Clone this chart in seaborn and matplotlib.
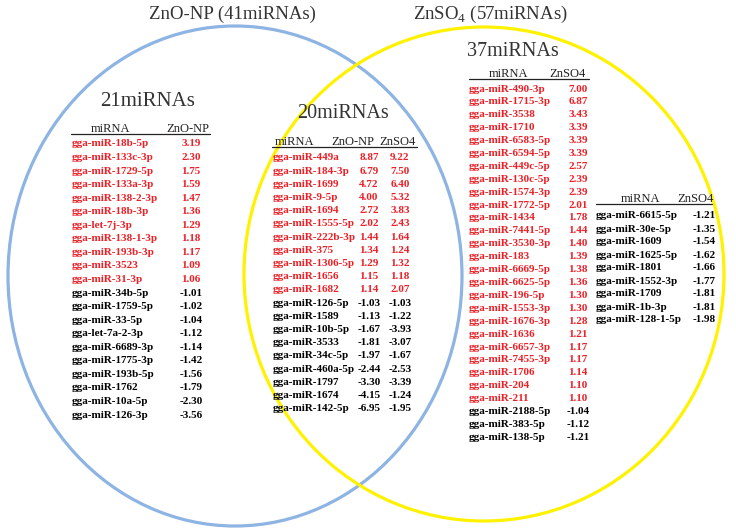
import matplotlib
matplotlib.use("Agg")
import matplotlib.pyplot as plt
from matplotlib.patches import Ellipse
import seaborn as sns

# --- data -------------------------------------------------------------
znonp_only_names = ["gga-miR-18b-5p", "gga-miR-133c-3p", "gga-miR-1729-5p", "gga-miR-133a-3p",
                    "gga-miR-138-2-3p", "gga-miR-18b-3p", "gga-let-7j-3p", "gga-miR-138-1-3p",
                    "gga-miR-193b-3p", "gga-miR-3523", "gga-miR-31-3p", "gga-miR-34b-5p",
                    "gga-miR-1759-5p", "gga-miR-33-5p", "gga-let-7a-2-3p", "gga-miR-6689-3p",
                    "gga-miR-1775-3p", "gga-miR-193b-5p", "gga-miR-1762", "gga-miR-10a-5p",
                    "gga-miR-126-3p"]
znonp_only_fc = [3.19, 2.30, 1.75, 1.59, 1.47, 1.36, 1.29, 1.18, 1.17, 1.09, 1.06,
                 -1.01, -1.02, -1.04, -1.12, -1.14, -1.42, -1.56, -1.79, -2.30, -3.56]

shared_names = ["gga-miR-449a", "gga-miR-184-3p", "gga-miR-1699", "gga-miR-9-5p", "gga-miR-1694",
                "gga-miR-1555-5p", "gga-miR-222b-3p", "gga-miR-375", "gga-miR-1306-5p",
                "gga-miR-1656", "gga-miR-1682", "gga-miR-126-5p", "gga-miR-1589", "gga-miR-10b-5p",
                "gga-miR-3533", "gga-miR-34c-5p", "gga-miR-460a-5p", "gga-miR-1797",
                "gga-miR-1674", "gga-miR-142-5p"]
shared_fc_znonp = [8.87, 6.79, 4.72, 4.00, 2.72, 2.02, 1.44, 1.34, 1.29, 1.15, 1.14,
                   -1.03, -1.13, -1.67, -1.81, -1.97, -2.44, -3.30, -4.15, -6.95]
shared_fc_znso4 = [9.22, 7.50, 6.40, 5.32, 3.83, 2.43, 1.64, 1.24, 1.32, 1.18, 2.07,
                   -1.03, -1.22, -3.93, -3.07, -1.67, -2.53, -3.39, -1.24, -1.95]

znso4_only_names_a = ["gga-miR-490-3p", "gga-miR-1715-3p", "gga-miR-3538", "gga-miR-1710",
                      "gga-miR-6583-5p", "gga-miR-6594-5p", "gga-miR-449c-5p", "gga-miR-130c-5p",
                      "gga-miR-1574-3p", "gga-miR-1772-5p", "gga-miR-1434", "gga-miR-7441-5p",
                      "gga-miR-3530-3p", "gga-miR-183", "gga-miR-6669-5p", "gga-miR-6625-5p",
                      "gga-miR-196-5p", "gga-miR-1553-3p", "gga-miR-1676-3p", "gga-miR-1636",
                      "gga-miR-6657-3p", "gga-miR-7455-3p", "gga-miR-1706", "gga-miR-204",
                      "gga-miR-211", "gga-miR-2188-5p", "gga-miR-383-5p", "gga-miR-138-5p"]
znso4_only_fc_a = [7.00, 6.87, 3.43, 3.39, 3.39, 3.39, 2.57, 2.39, 2.39, 2.01, 1.78, 1.44,
                   1.40, 1.39, 1.38, 1.36, 1.30, 1.30, 1.28, 1.21, 1.17, 1.17, 1.14, 1.10,
                   1.10, -1.04, -1.12, -1.21]

znso4_only_names_b = ["gga-miR-6615-5p", "gga-miR-30e-5p", "gga-miR-1609", "gga-miR-1625-5p",
                      "gga-miR-1801", "gga-miR-1552-3p", "gga-miR-1709", "gga-miR-1b-3p",
                      "gga-miR-128-1-5p"]
znso4_only_fc_b = [-1.21, -1.35, -1.54, -1.62, -1.66, -1.77, -1.81, -1.81, -1.98]

set_titles = ["ZnO-NP (41miRNAs)", "ZnSO$_\\mathrm{4}$ (57miRNAs)"]
region_counts = ["21miRNAs", "20miRNAs", "37miRNAs"]

# --- style ------------------------------------------------------------
sns.set_theme(style="white")
plt.rcParams["font.family"] = ["Liberation Serif", "DejaVu Serif"]
plt.rcParams["mathtext.fontset"] = "custom"
plt.rcParams["mathtext.rm"] = "Liberation Serif"

RED = "#ec2027"
BLUE = "#8eb4e3"
YELLOW = "#fff200"
ROW_FS = 8
HEAD_FS = 9

fig = plt.figure(figsize=(7.36, 5.31), dpi=100)
ax = fig.add_axes([0, 0, 1, 1])
ax.set_xlim(0, 736)
ax.set_ylim(531, 0)
ax.axis("off")

ax.add_patch(Ellipse((235, 276), 454, 500, fill=False, ec=BLUE, lw=2.3))
ax.add_patch(Ellipse((484, 274), 480, 494, fill=False, ec=YELLOW, lw=2.3))

ax.text(232, 14, set_titles[0], fontsize=13.5, ha="center", va="center", color="#333333")
ax.text(490, 14, set_titles[1], fontsize=13.5, ha="center", va="center", color="#333333")

ax.text(148, 101, region_counts[0], fontsize=15, ha="center", va="center", color="#333333")
ax.text(343, 113, region_counts[1], fontsize=14.5, ha="center", va="center", color="#333333")
ax.text(513, 51, region_counts[2], fontsize=14.5, ha="center", va="center", color="#333333")


def draw_table(names, cols, name_x, col_x, y0, dy, heads, head_x, head_y, line_x):
    for x, h in zip(head_x, heads):
        ax.text(x, head_y, h, fontsize=HEAD_FS, ha="center", va="center", color="#222222")
    ax.plot(line_x, [head_y + 5, head_y + 5], color="#222222", lw=0.9)
    for i, name in enumerate(names):
        y = y0 + i * dy
        c = RED if cols[0][i] > 0 else "black"
        ax.text(name_x, y, name, fontsize=ROW_FS, fontweight="bold", ha="left", va="center", color=c)
        for x, vals in zip(col_x, cols):
            ax.text(x, y, f"{vals[i]:.2f}", fontsize=ROW_FS, fontweight="bold",
                    ha="center", va="center", color=c)


draw_table(znonp_only_names, [znonp_only_fc], 72, [191], 144, 13.55,
           ["miRNA", "ZnO-NP"], [110, 188], 129, [71, 210])
draw_table(shared_names, [shared_fc_znonp, shared_fc_znso4], 273, [369, 400], 158, 13.2,
           ["miRNA", "ZnO-NP", "ZnSO4"], [294, 353, 397], 142, [272, 417])
draw_table(znso4_only_names_a, [znso4_only_fc_a], 469, [578], 89, 12.9,
           ["miRNA", "ZnSO4"], [508, 567], 74, [469, 589])
draw_table(znso4_only_names_b, [znso4_only_fc_b], 596, [704], 216, 13.0,
           ["miRNA", "ZnSO4"], [640, 695], 199, [596, 712])

fig.savefig("out.png", dpi=100)
